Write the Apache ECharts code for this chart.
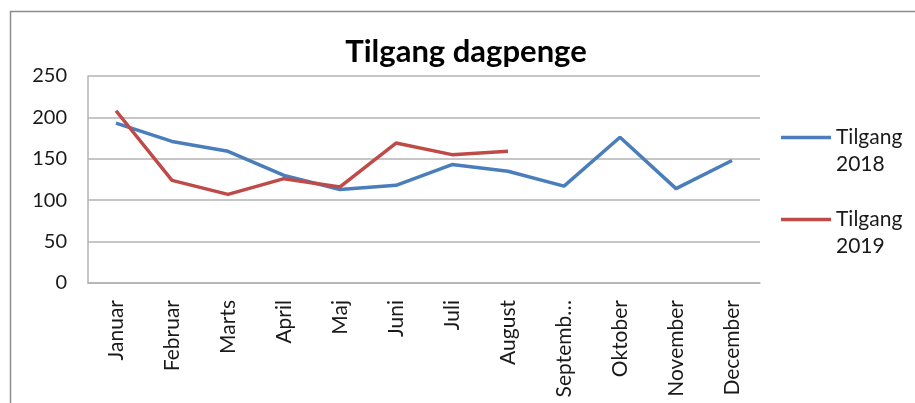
<!DOCTYPE html>
<html>
<head>
<meta charset="utf-8">
<script src="https://cdn.jsdelivr.net/npm/echarts@6/dist/echarts.min.js"></script>
<style>
  html, body { margin: 0; padding: 0; background: #fff; }
  #chart { width: 915px; height: 403px; }
</style>
</head>
<body>
<div id="chart"></div>
<script>
var months = ['Januar', 'Februar', 'Marts', 'April', 'Maj', 'Juni', 'Juli',
    'August', 'September', 'Oktober', 'November', 'December'];
var tilgang2018 = [193, 171, 159, 130, 113, 118, 143, 135, 117, 176, 114, 148];
var tilgang2019 = [208, 124, 107, 126, 116, 169, 155, 159];
var yTicks = [0, 50, 100, 150, 200, 250];

var myChart = echarts.init(document.getElementById('chart'));

var font = 'Lato, "Open Sans", sans-serif';
var txt = '#1a1a1a';

// en legend pr. serie; tom første linje så stregen står ud for "Tilgang"
function makeLegend(name, top) {
    return {
        orient: 'vertical',
        left: 776,
        top: top,
        itemWidth: 50,
        itemHeight: 14,
        icon: 'path://M0,0H50V3.5H0Z',
        symbolKeepAspect: true,
        formatter: function (n) { return '\u00a0\n' + n.replace(' ', '\n'); },
        textStyle: {
            fontSize: 21,
            lineHeight: 27,
            color: txt,
            fontFamily: font
        },
        data: [name]
    };
}

var option = {
    animation: false,
    textStyle: { fontFamily: font },
    title: {
        text: 'Tilgang dagpenge',
        left: 461,
        top: 31,
        textAlign: 'center',
        textStyle: { fontSize: 31, fontWeight: 'bold', color: '#000', fontFamily: font }
    },
    graphic: [{
        type: 'rect',
        shape: { x: 10.5, y: 11.5, width: 920, height: 420 },
        style: { fill: 'none', stroke: '#8c8c8c', lineWidth: 1.5 },
        silent: true
    }],
    legend: [makeLegend('Tilgang 2018', 92), makeLegend('Tilgang 2019', 174)],
    grid: { left: 88, right: 155, top: 76, bottom: 120, containLabel: false },
    xAxis: {
        type: 'category',
        data: months,
        boundaryGap: true,
        axisLine: { lineStyle: { color: '#b3b3b3', width: 1.5 } },
        axisTick: { show: false },
        axisLabel: {
            rotate: 90,
            interval: 0,
            margin: 17,
            fontSize: 21,
            color: txt,
            width: 99,
            overflow: 'truncate',
            ellipsis: '…'
        }
    },
    yAxis: {
        type: 'value',
        min: yTicks[0],
        max: yTicks[yTicks.length - 1],
        interval: 50,
        axisLine: { show: true, lineStyle: { color: '#b3b3b3', width: 1.5 } },
        axisTick: { show: false },
        axisLabel: { fontSize: 20, color: txt, margin: 21 },
        splitLine: { lineStyle: { color: '#b3b3b3', width: 1.5 } }
    },
    series: [
        {
            name: 'Tilgang 2018',
            type: 'line',
            data: tilgang2018,
            symbol: 'none',
            lineStyle: { color: '#4A7EBB', width: 3.5 },
            itemStyle: { color: '#4A7EBB' }
        },
        {
            name: 'Tilgang 2019',
            type: 'line',
            data: tilgang2019,
            symbol: 'none',
            lineStyle: { color: '#BE4B48', width: 3.5 },
            itemStyle: { color: '#BE4B48' }
        }
    ]
};
option && myChart.setOption(option);
</script>
</body>
</html>
